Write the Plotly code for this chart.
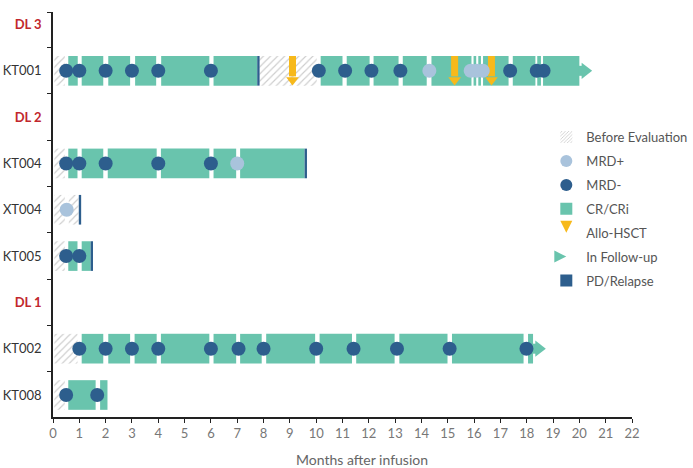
import plotly.graph_objects as go

# ---------------- data ----------------
row_labels = ["KT008", "KT002", "DL 1", "KT005", "XT004", "KT004", "DL 2", "KT001", "DL 3"]
group_labels = ["DL 1", "DL 2", "DL 3"]

# Before evaluation (hatched) segments
pre_patient = ["KT001", "KT001", "KT004", "XT004", "XT004", "KT005", "KT002", "KT008"]
pre_start = [0.05, 7.84, 0.05, 0.05, 0.6, 0.05, 0.05, 0.05]
pre_end = [0.45, 10.02, 0.45, 0.45, 0.97, 0.45, 0.93, 0.45]

# CR/CRi segments
cr_patient = (["KT001"] * 17 + ["KT004"] * 6 + ["KT005"] * 2 + ["KT002"] * 12 + ["KT008"] * 2)
cr_start = [0.58, 1.09, 2.1, 3.12, 4.11, 6.1, 10.17, 11.16, 12.18, 13.29, 14.38, 15.98, 16.16, 16.34, 17.47, 18.4, 18.62,
            0.58, 1.09, 2.08, 4.1, 6.1, 7.11,
            0.58, 1.09,
            1.09, 2.1, 3.1, 4.1, 6.1, 7.11, 8.1, 10.13, 11.52, 13.16, 15.16, 18.05,
            0.58, 1.79]
cr_end = [0.94, 1.91, 2.93, 3.92, 5.94, 7.76, 11.0, 12.03, 13.13, 14.2, 15.9, 16.08, 16.26, 17.31, 18.33, 18.54, 20.0,
          0.93, 1.91, 3.94, 5.94, 6.96, 9.56,
          0.93, 1.43,
          1.91, 2.93, 3.94, 5.94, 6.96, 7.93, 9.96, 11.36, 12.98, 14.99, 17.88, 18.24,
          1.62, 2.07]

# MRD- assessments
mrdneg_patient = (["KT001"] * 13 + ["KT004"] * 5 + ["KT005"] * 2 + ["KT002"] * 12 + ["KT008"] * 2)
mrdneg_month = [0.5, 1.0, 2.0, 3.0, 4.0, 6.0, 10.1, 11.1, 12.1, 13.2, 17.37, 18.38, 18.64,
                0.5, 1.0, 2.0, 4.0, 6.0,
                0.5, 1.0,
                1.0, 2.0, 3.0, 4.0, 6.0, 7.05, 8.0, 10.0, 11.42, 13.07, 15.07, 17.99,
                0.5, 1.68]

# MRD+ assessments
mrdpos_patient = ["KT001", "KT001", "KT001", "KT001", "KT004", "XT004"]
mrdpos_month = [14.3, 15.87, 16.1, 16.33, 7.0, 0.52]

# Allo-HSCT
hsct_patient = ["KT001", "KT001", "KT001"]
hsct_month = [9.1, 15.26, 16.66]

# In follow-up (end of bar)
fu_patient = ["KT001", "KT002"]
fu_month = [20.0, 18.24]

# PD / Relapse
pd_patient = ["KT001", "KT004", "XT004", "KT005"]
pd_month = [7.76, 9.56, 0.98, 1.43]

# ---------------- style ----------------
GREEN = "#69c4ad"
DARK = "#2d5e8d"
LIGHT = "#a9c3dc"
YELLOW = "#f7b91b"
RED = "#c1272d"
BAR_W = 0.64
FONT = "Lato"

row = {lab: i for i, lab in enumerate(row_labels)}

fig = go.Figure()

# hatched before-evaluation
fig.add_trace(go.Bar(
    orientation="h", y=[row[p] for p in pre_patient], base=pre_start,
    x=[e - s for s, e in zip(pre_start, pre_end)], width=BAR_W,
    marker=dict(color="white", line=dict(width=0),
                pattern=dict(shape="/", fgcolor="#9a9a9a", bgcolor="white", size=5, solidity=0.22)),
    showlegend=False, hoverinfo="skip"))

# CR/CRi
fig.add_trace(go.Bar(
    orientation="h", y=[row[p] for p in cr_patient], base=cr_start,
    x=[e - s for s, e in zip(cr_start, cr_end)], width=BAR_W,
    marker=dict(color=GREEN, line=dict(width=0)), showlegend=False, hoverinfo="skip"))

# PD/Relapse
fig.add_trace(go.Bar(
    orientation="h", y=[row[p] for p in pd_patient], base=pd_month,
    x=[0.09] * len(pd_month), width=BAR_W,
    marker=dict(color=DARK, line=dict(width=0)), showlegend=False, hoverinfo="skip"))

# follow-up arrows
sx, sy = [], []
for p, m in zip(fu_patient, fu_month):
    sx += [m - 0.02, m + 0.14, None]
    sy += [row[p], row[p], None]
fig.add_trace(go.Scatter(x=sx, y=sy, mode="lines", line=dict(color=GREEN, width=10),
                         showlegend=False, hoverinfo="skip"))
fig.add_trace(go.Scatter(x=[m + 0.22 for m in fu_month], y=[row[p] for p in fu_patient], mode="markers",
                         marker=dict(symbol="triangle-right", size=14, color=GREEN, line=dict(width=0)),
                         showlegend=False, hoverinfo="skip"))

# Allo-HSCT arrows
hx, hy = [], []
for p, m in zip(hsct_patient, hsct_month):
    hx += [m, m, None]
    hy += [row[p] + BAR_W / 2, row[p] - 0.12, None]
fig.add_trace(go.Scatter(x=hx, y=hy, mode="lines", line=dict(color=YELLOW, width=7),
                         showlegend=False, hoverinfo="skip"))
fig.add_trace(go.Scatter(x=hsct_month, y=[row[p] - 0.2 for p in hsct_patient], mode="markers",
                         marker=dict(symbol="triangle-down", size=11, color=YELLOW, line=dict(width=0)),
                         showlegend=False, hoverinfo="skip"))

# MRD dots
fig.add_trace(go.Scatter(x=mrdpos_month, y=[row[p] for p in mrdpos_patient], mode="markers",
                         marker=dict(size=14, color=LIGHT, line=dict(width=0)),
                         showlegend=False, hoverinfo="skip"))
fig.add_trace(go.Scatter(x=mrdneg_month, y=[row[p] for p in mrdneg_patient], mode="markers",
                         marker=dict(size=14, color=DARK, line=dict(width=0)),
                         showlegend=False, hoverinfo="skip"))

# ---------------- legend-only entries ----------------
leg = [
    ("Before Evaluation", go.Bar(x=[None], y=[None], orientation="h",
        marker=dict(color="white", line=dict(width=0),
                    pattern=dict(shape="/", fgcolor="#9a9a9a", bgcolor="white", size=3, solidity=0.35)))),
    ("MRD+", go.Scatter(x=[None], y=[None], mode="markers", marker=dict(symbol="circle", color=LIGHT, size=9))),
    ("MRD-", go.Scatter(x=[None], y=[None], mode="markers", marker=dict(symbol="circle", color=DARK, size=9))),
    ("CR/CRi", go.Bar(x=[None], y=[None], orientation="h", marker=dict(color=GREEN, line=dict(width=0)))),
    ("Allo-HSCT", go.Scatter(x=[None], y=[None], mode="markers", marker=dict(symbol="arrow-down", color=YELLOW, size=11))),
    ("In Follow-up", go.Scatter(x=[None], y=[None], mode="markers", marker=dict(symbol="arrow-right", color=GREEN, size=11))),
    ("PD/Relapse", go.Bar(x=[None], y=[None], orientation="h", marker=dict(color=DARK, line=dict(width=0)))),
]
for i, (name, tr) in enumerate(leg):
    tr.name = name
    tr.legendgroup = name
    tr.legendrank = i + 1
    tr.showlegend = True
    tr.hoverinfo = "skip"
    fig.add_trace(tr)

ticktext = []
for lab in row_labels:
    if lab in group_labels:
        ticktext.append(f"<b><span style='color:{RED}'>{lab}</span></b>")
    else:
        ticktext.append(lab)

fig.update_layout(
    width=693, height=468,
    margin=dict(l=53, r=61, t=12, b=51, autoexpand=False),
    paper_bgcolor="white", plot_bgcolor="white",
    barmode="overlay",
    font=dict(family=FONT, size=13, color="#333"),
    showlegend=True,
    legend=dict(x=0.852, y=0.728, xanchor="left", yanchor="top", bgcolor="rgba(0,0,0,0)",
                font=dict(size=13, color="#555", family=FONT), tracegroupgap=4, itemsizing="constant"),
    xaxis=dict(range=[0, 22], tickmode="array", tickvals=list(range(0, 23)), automargin=False,
               showline=True, linecolor="#222", linewidth=1.5, ticks="outside", ticklen=4,
               tickcolor="#222", tickwidth=1.3, showgrid=False, zeroline=False,
               tickfont=dict(size=13, color="#777")),
    yaxis=dict(range=[-0.475, 8.27], tickmode="array", tickvals=list(range(len(row_labels))),
               ticktext=ticktext, ticks="", showline=True, linecolor="#222", linewidth=1.5,
               showgrid=False, zeroline=False, ticklabelstandoff=7, automargin=False,
               tickfont=dict(size=13, color="#333"),
               minor=dict(tickmode="array", tickvals=[i + 0.5 for i in range(len(row_labels) - 1)] + [8.26],
                          ticks="outside", ticklen=4, tickcolor="#222", tickwidth=1.3, showgrid=False)),
    annotations=[dict(text="Months after infusion", xref="paper", yref="paper", x=0.533, y=-0.106,
                      xanchor="center", yanchor="middle", showarrow=False,
                      font=dict(size=14, color="#666", family=FONT))],
)

fig.write_html("out.html")
